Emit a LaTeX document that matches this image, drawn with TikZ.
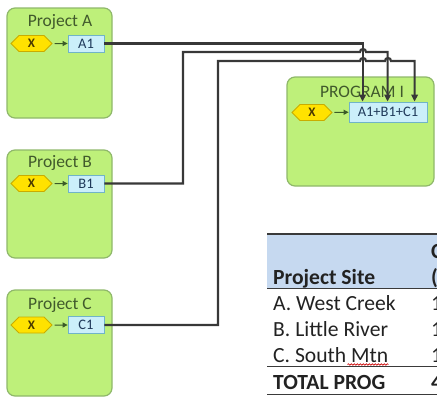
\documentclass[tikz,border=0pt]{standalone}
\usepackage{fontspec}
\setmainfont{Carlito}
\usetikzlibrary{arrows.meta,shapes.symbols,decorations.pathmorphing}
\definecolor{boxgreen}{HTML}{BEF07A}
\definecolor{boxedge}{HTML}{8FB86A}
\definecolor{titlegreen}{HTML}{415A2C}
\definecolor{hexfill}{HTML}{FFE200}
\definecolor{hexedge}{HTML}{C9AC00}
\definecolor{hextext}{HTML}{4A3A00}
\definecolor{cellfill}{HTML}{CBEFFA}
\definecolor{celledge}{HTML}{70B4C8}
\definecolor{celltext}{HTML}{1F3A5A}
\definecolor{wire}{HTML}{383838}
\definecolor{smallarrow}{HTML}{3A5A28}
\definecolor{band}{HTML}{C6D9F0}
\definecolor{tabtext}{HTML}{222222}
\definecolor{rulegray}{HTML}{3A3A3A}
\tikzset{
  projbox/.style={draw=boxedge, fill=boxgreen, line width=1.2pt, rounded corners=8pt, inner sep=0pt},
  boxtitle/.style={text=titlegreen, font=\fontsize{17.5}{20}\selectfont, inner sep=0pt},
  hexnode/.style={signal, signal to=east and west, draw=hexedge, fill=hexfill, line width=0.8pt,
     minimum width=41pt, minimum height=16pt, inner sep=0pt, text=hextext,
     font=\fontsize{13}{13}\selectfont\bfseries},
  cellnode/.style={draw=celledge, fill=cellfill, line width=0.8pt, minimum height=17pt, inner sep=0pt,
     text=celltext, font=\fontsize{14.5}{15}\selectfont},
  feed/.style={draw=smallarrow, line width=1pt, -{Triangle[length=5pt,width=5pt]}, shorten <=2pt},
  conn/.style={draw=wire, line width=2.2pt, -{Triangle[length=7pt,width=6.5pt]}},
  tabcell/.style={anchor=base west, inner sep=0pt, text=tabtext, font=\fontsize{21.6}{26}\selectfont},
  tabhead/.style={tabcell, font=\fontsize{21.6}{26}\selectfont\bfseries},
  tabrule/.style={draw=rulegray}
}
\begin{document}
\begin{tikzpicture}[x=1pt,y=-1pt]
\useasboundingbox (0,0) rectangle (437,397);
\clip (0,0) rectangle (437,397);

% project boxes
\node[projbox, minimum width=105pt, minimum height=110pt] (pA) at (59.5,63) {};
\node[projbox, minimum width=105pt, minimum height=108pt] (pB) at (59.5,204) {};
\node[projbox, minimum width=105pt, minimum height=106pt] (pC) at (59.5,343) {};
\node[projbox, minimum width=147pt, minimum height=109pt] (pP) at (360.5,131.5) {};

\node[boxtitle] (tA) at (60,22) {Project A};
\node[boxtitle] (tB) at (60,163) {Project B};
\node[boxtitle] (tC) at (60,305) {Project C};
\node[boxtitle] (tP) at (362,92) {PROGRAM I};

% inputs
\node[hexnode] (xA) at (31.5,43.5) {X};
\node[hexnode] (xB) at (31.5,183.5) {X};
\node[hexnode] (xC) at (31.5,325) {X};
\node[hexnode, minimum width=40pt] (xP) at (312,112.5) {X};

\node[cellnode, minimum width=36pt] (A1) at (86,43.5) {A1};
\node[cellnode, minimum width=36pt] (B1) at (86,183.5) {B1};
\node[cellnode, minimum width=36pt] (C1) at (86,325) {C1};
\node[cellnode, minimum width=78pt, minimum height=20pt] (sum) at (388,112) {A1+B1+C1};

\draw[feed] (xA) -- (A1);
\draw[feed] (xB) -- (B1);
\draw[feed] (xC) -- (C1);
\draw[feed] (xP) -- (sum);

% connectors
\draw[conn] (A1.east) -| ([xshift=14pt]sum.north west);
\draw[conn] (B1.east) -| (183,52) -- (360,52)
   arc[start angle=180,end angle=360,radius=3] -| ([xshift=39pt]sum.north west);
\draw[conn] (C1.east) -| (218,61) -- (360,61)
   arc[start angle=180,end angle=360,radius=3] -- (385,61)
   arc[start angle=180,end angle=360,radius=3] -| ([xshift=66pt]sum.north west);

% table
\fill[band] (267,234) rectangle (437,288);
\draw[tabrule, line width=1.8pt] (267,234) -- (437,234);
\draw[tabrule, line width=1pt] (267,288) -- (437,288);
\draw[tabrule, line width=1.5pt] (267,366.5) -- (437,366.5);
\draw[tabrule, line width=1.8pt] (267,394.5) -- (437,394.5);

\node[tabhead] (h1) at (273,284) {Project Site};
\node[tabhead] (h2a) at (431,258) {C};
\node[tabhead] (h2b) at (431,284) {(};
\node[tabcell] (r1) at (273,310) {A. West Creek};
\node[tabcell] (r2) at (273,336) {B. Little River};
\node[tabcell] (r3) at (273,362) {C. South Mtn};
\node[tabhead] (r4) at (273,389) {TOTAL PROG};
\node[tabcell] (v1) at (431,310) {1};
\node[tabcell] (v2) at (431,336) {1};
\node[tabcell] (v3) at (431,362) {1};
\node[tabhead] (v4) at (431,389) {4};
\draw[red!80!black, line width=0.6pt, decorate,
  decoration={snake, amplitude=0.8pt, segment length=3pt}]
  ([xshift=-41pt,yshift=-2.5pt]r3.base east) -- ([yshift=-2.5pt]r3.base east);
\end{tikzpicture}
\end{document}
